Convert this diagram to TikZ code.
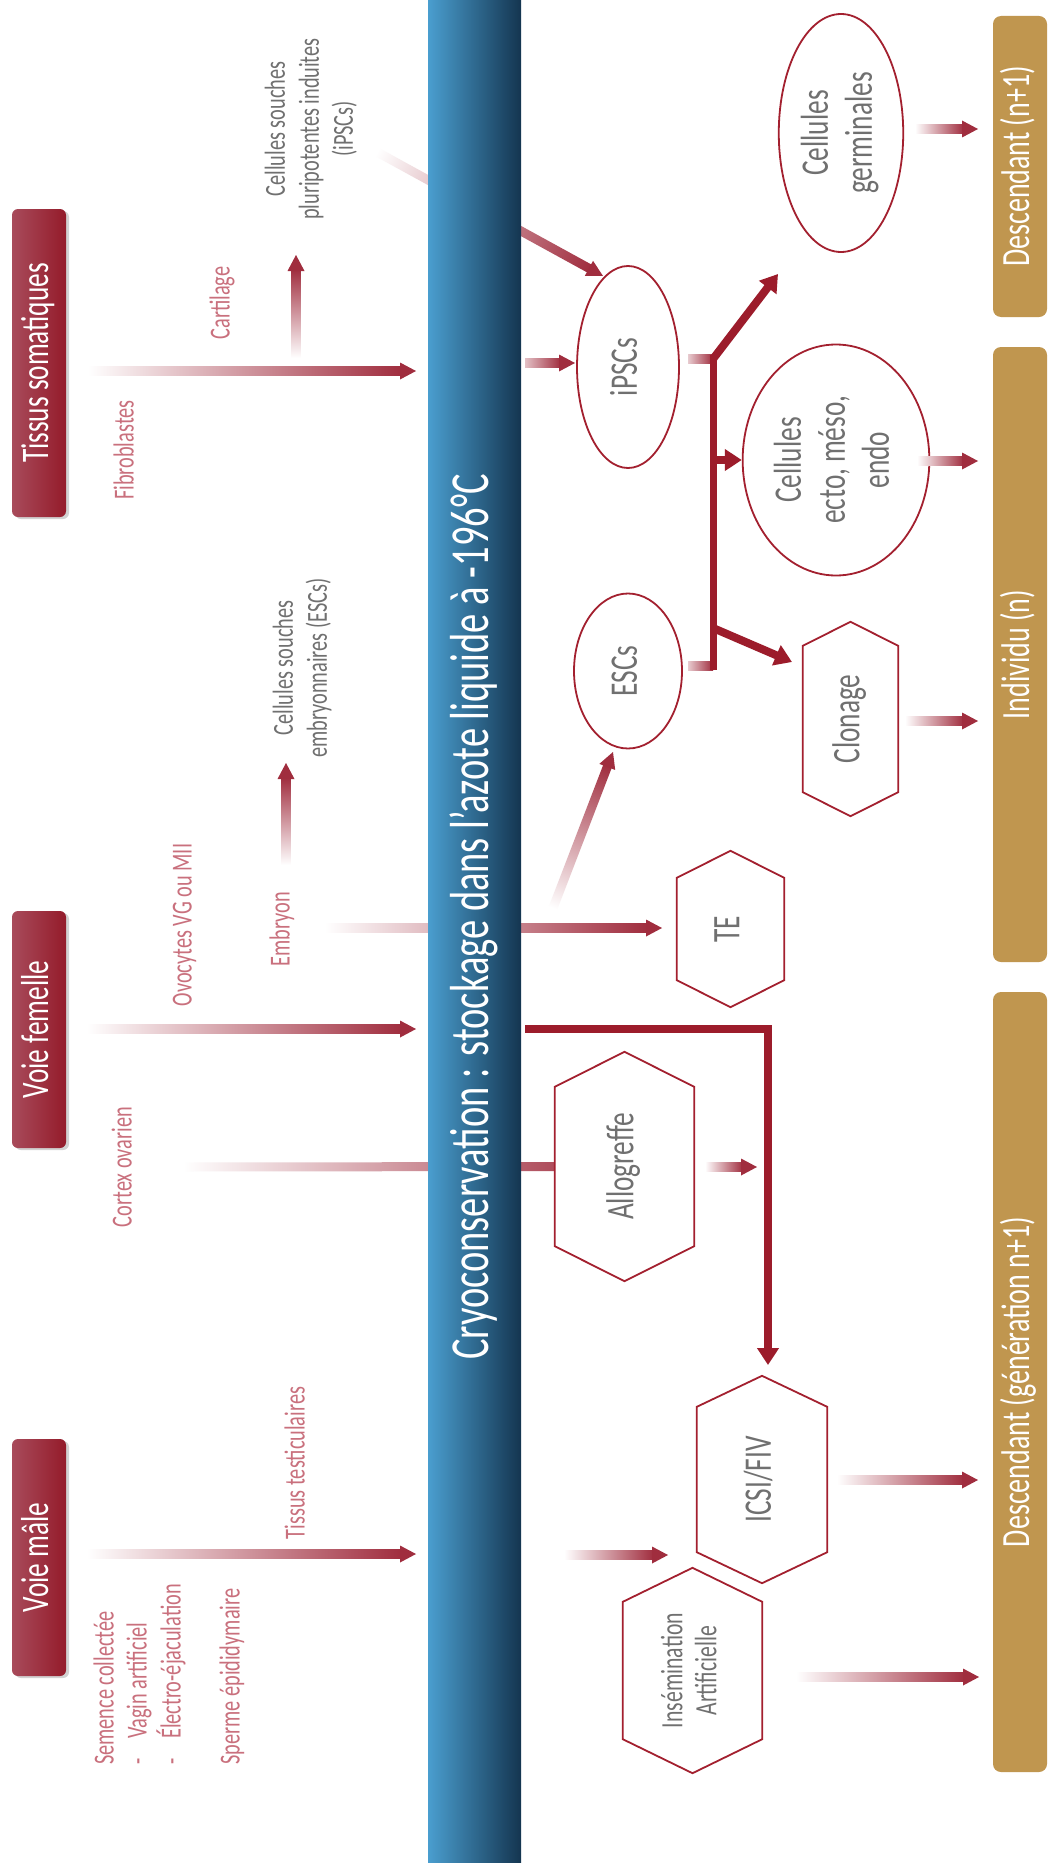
\documentclass[tikz,border=0pt]{standalone}
\usepackage{fontspec}
\setmainfont{Carlito}[FakeStretch=0.7]
\usepackage{graphicx}
\usepackage{xcolor}
\usetikzlibrary{positioning, shapes.geometric, shadows, arrows.meta}

\definecolor{cryored}{HTML}{9C1C2B}
\definecolor{arrowred}{HTML}{A02D3E}
\definecolor{cellred}{HTML}{A3202F}
\definecolor{boxredL}{HTML}{A84B5B}
\definecolor{boxredR}{HTML}{941B2A}
\definecolor{lblpink}{HTML}{C9707D}
\definecolor{infogray}{HTML}{707070}
\definecolor{gold}{HTML}{C0964F}
\definecolor{barleft}{HTML}{4A9ECF}
\definecolor{barright}{HTML}{143550}

\pgfdeclarelayer{background}
\pgfdeclarelayer{behind}
\pgfsetlayers{background,behind,main}

% vertical text (reads bottom to top)
\newcommand{\vt}[1]{\rotatebox{90}{\begin{tabular}{@{}c@{}}#1\end{tabular}}}

% arrow fading in from #3 (start #1, tip #2)
\newcommand{\fadearrow}[3]{%
  \pgfpointdiff{\pgfpointanchor{#1}{center}}{\pgfpointanchor{#2}{center}}%
  \pgfgetlastxy{\fadex}{\fadey}%
  \pgfmathsetmacro{\fadelen}{veclen(\fadex,\fadey)}%
  \pgfmathsetmacro{\fadeang}{atan2(\fadey,\fadex)}%
  \begin{scope}[transform canvas={shift={(#1)}, rotate=\fadeang}]
    \shade[left color=#3, right color=arrowred] (0pt,-4.5pt) rectangle (\fadelen pt-14pt,4.5pt);
    \fill[arrowred] (\fadelen pt-16pt,-8.5pt) -- (\fadelen pt,0pt) -- (\fadelen pt-16pt,8.5pt) -- cycle;
  \end{scope}}

% same without a head
\newcommand{\fadeline}[4]{%
  \pgfpointdiff{\pgfpointanchor{#1}{center}}{\pgfpointanchor{#2}{center}}%
  \pgfgetlastxy{\fadex}{\fadey}%
  \pgfmathsetmacro{\fadelen}{veclen(\fadex,\fadey)}%
  \pgfmathsetmacro{\fadeang}{atan2(\fadey,\fadex)}%
  \begin{scope}[transform canvas={shift={(#1)}, rotate=\fadeang}]
    \shade[left color=#3, right color=#4] (0pt,-4.5pt) rectangle (\fadelen pt,4.5pt);
  \end{scope}}

% hexagon outline round a rectangle node
\newcommand{\hexframe}[2]{\draw[hexline] (#1.north) -- ([yshift=-#2]#1.north east) -- ([yshift=#2]#1.south east) -- (#1.south) -- ([yshift=#2]#1.south west) -- ([yshift=-#2]#1.north west) -- cycle;}

\tikzset{
  boxtitle/.style={rectangle, rounded corners=6pt, inner sep=0pt, left color=boxredL, right color=boxredR,
    drop shadow={shadow xshift=3pt, shadow yshift=-2pt, opacity=0.35}, text=white, font=\fontsize{39}{45}\selectfont},
  goldbox/.style={rectangle, rounded corners=8pt, inner sep=0pt, fill=gold, text=white, font=\fontsize{40}{46}\selectfont},
  lbl/.style={inner sep=0pt, text=lblpink, font=\fontsize{29}{33}\selectfont},
  info/.style={inner sep=0pt, text=infogray, font=\fontsize{29}{34}\selectfont},
  cell/.style={ellipse, draw=cellred, line width=1.8pt, inner sep=0pt, text=infogray, font=\fontsize{39}{44}\selectfont},
  hexnode/.style={rectangle, inner sep=0pt, text=infogray, font=\fontsize{39}{44}\selectfont},
  hexline/.style={draw=cellred, line width=1.8pt, line join=miter},
  solidarrow/.style={cryored, line width=8pt, -{Triangle[length=17pt, width=21pt]}}
}

\begin{document}
\begin{tikzpicture}[x=1pt, y=-1pt]
    \useasboundingbox (0,0) rectangle (1048,1865);
    \begin{pgfonlayer}{background}
        \fill[white] (0,0) rectangle (1048,1865); % page
    \end{pgfonlayer}

    % cryo bar
    \node[rectangle, inner sep=0pt, minimum width=93pt, minimum height=1862pt, left color=barleft, right color=barright] (cryo) at (474.5,931) {};
    \node[inner sep=0pt, text=white, font=\fontsize{55}{66}\selectfont] (cryotext) at (475,917) {\vt{Cryoconservation : stockage dans l'azote liquide à -196°C}};

    % sources
    \node[boxtitle, minimum width=54pt, minimum height=308pt] (soma) at (39,363) {\vt{Tissus somatiques}};
    \node[boxtitle, minimum width=54pt, minimum height=237pt] (femelle) at (39,1029.5) {\vt{Voie femelle}};
    \node[boxtitle, minimum width=54pt, minimum height=237pt] (male) at (39,1557.5) {\vt{Voie mâle}};

    % results
    \node[goldbox, minimum width=54pt, minimum height=301pt] (descA) at (1020,166.5) {\vt{Descendant (n+1)}};
    \node[goldbox, minimum width=54pt, minimum height=615pt] (individu) at (1020,654.5) {\vt{Individu (n)}};
    \node[goldbox, minimum width=54pt, minimum height=780pt] (descB) at (1020,1382) {\vt{Descendant (génération n+1)}};

    % labels
    \node[lbl] (fibro) at (127,450) {\vt{Fibroblastes}};
    \node[lbl] (cartilage) at (223,303) {\vt{Cartilage}};
    \node[info] (ipsclabel) at (312,129) {\vt{Cellules souches\\pluripotentes induites\\(iPSCs)}};
    \node[lbl] (ovocytes) at (185,925) {\vt{Ovocytes VG ou MII}};
    \node[lbl] (embryon) at (283,929) {\vt{Embryon}};
    \node[info] (esclabel) at (303,668) {\vt{Cellules souches\\embryonnaires (ESCs)}};
    \node[lbl] (cortex) at (125,1167) {\vt{Cortex ovarien}};
    \node[lbl] (testic) at (298,1463) {\vt{Tissus testiculaires}};
    \node[lbl, anchor=south] (semence) at (170,1765) {\rotatebox{90}{\begin{tabular}{@{}l@{}}Semence collectée\\ \makebox[26pt][l]{-}Vagin artificiel\\ \makebox[26pt][l]{-}Électro-éjaculation\\[26pt] Sperme épididymaire\end{tabular}}};

    % cells
    \node[cell, minimum width=124pt, minimum height=238pt] (germ) at (841,133) {\vt{Cellules\\germinales}};
    \node[cell, minimum width=102pt, minimum height=202pt] (ipscs) at (628,367) {\vt{iPSCs}};
    \node[cell, minimum width=160pt, minimum height=231pt] (ecto) at (836,460) {\vt{Cellules\\ecto, méso,\\endo}};
    \node[cell, minimum width=108pt, minimum height=155pt] (escs) at (628,671) {\vt{ESCs}};

    % techniques
    \node[hexnode, minimum width=95pt, minimum height=194pt] (clonage) at (850.5,719) {\vt{Clonage}};
    \hexframe{clonage}{24pt}
    \node[hexnode, minimum width=107pt, minimum height=156pt] (te) at (730.5,929) {\vt{TE}};
    \hexframe{te}{27pt}
    \node[hexnode, minimum width=139pt, minimum height=229pt] (allogreffe) at (624.5,1166.5) {\vt{Allogreffe}};
    \hexframe{allogreffe}{35pt}
    \node[hexnode, minimum width=130pt, minimum height=207pt] (icsi) at (762,1479.5) {\vt{ICSI/FIV}};
    \hexframe{icsi}{31pt}
    \node[hexnode, minimum width=139pt, minimum height=205pt, font=\fontsize{31}{34}\selectfont] (insem) at (692.5,1670.5) {\vt{Insémination\\Artificielle}};
    \hexframe{insem}{34pt}

    % arrow ends
    \coordinate (somaS) at (88,371);
    \coordinate (somaT) at (416,371);
    \coordinate (cartS) at (296,358);
    \coordinate (cartT) at (296,255);
    \coordinate (ipdS) at (377,152);
    \coordinate (ipdT) at (603,276);
    \coordinate (ipinS) at (525,363);
    \coordinate (ipinT) at (575,363);
    \coordinate (ipstub) at (688,359);
    \coordinate (trunkTop) at (713,359);
    \coordinate (escstub) at (688,666);
    \coordinate (escjoin) at (713,666);
    \coordinate (germTip) at (778,274);
    \coordinate (ectoBr) at (713,460);
    \coordinate (cloBr) at (713,628);
    \coordinate (cloTip) at (792,662);
    \coordinate (germOutS) at (915,129);
    \coordinate (germOutT) at (978,129);
    \coordinate (ectoOutS) at (917,461);
    \coordinate (ectoOutT) at (978,461);
    \coordinate (cloOutS) at (905,721);
    \coordinate (cloOutT) at (978,721);
    \coordinate (ovoS) at (87,1029);
    \coordinate (ovoT) at (416,1029);
    \coordinate (ovoR) at (525,1029);
    \coordinate (icsiTip) at (768,1365);
    \coordinate (embS) at (325,928);
    \coordinate (embT) at (662,928);
    \coordinate (escUpS) at (286,865);
    \coordinate (escUpT) at (286,763);
    \coordinate (escdS) at (553,908);
    \coordinate (escdT) at (613,752);
    \coordinate (cortS) at (183,1167);
    \coordinate (alloOutS) at (705,1167);
    \coordinate (alloOutT) at (757,1167);
    \coordinate (icsiOutS) at (837,1480);
    \coordinate (icsiOutT) at (978,1480);
    \coordinate (maleS) at (87,1554);
    \coordinate (maleT) at (416,1554);
    \coordinate (maleRS) at (564,1555);
    \coordinate (maleRT) at (668,1555);
    \coordinate (insOutS) at (796,1677);
    \coordinate (insOutT) at (979,1677);
    \coordinate (alloIn) at (allogreffe.west);

    % arrows passing behind the bar
    \begin{pgfonlayer}{behind}
        \fadearrow{ipdS}{ipdT}{white}
        \fadearrow{embS}{embT}{white}
        \fadeline{cortS}{alloIn}{white}{arrowred!85!white}
    \end{pgfonlayer}

    % left side
    \fadearrow{somaS}{somaT}{white}
    \fadearrow{cartS}{cartT}{white}
    \fadearrow{ovoS}{ovoT}{white}
    \fadearrow{escUpS}{escUpT}{white}
    \fadearrow{maleS}{maleT}{white}

    % right side
    \fadearrow{ipinS}{ipinT}{arrowred!30!white}
    \fadeline{ipstub}{trunkTop}{arrowred!25!white}{arrowred}
    \fadeline{escstub}{escjoin}{arrowred!25!white}{arrowred}
    \draw[cryored, line width=7pt] (713,355) -- (713,670); % trunk
    \draw[solidarrow] (trunkTop) -- (germTip);
    \draw[solidarrow] (ectoBr) -- (ecto.west);
    \draw[solidarrow] (cloBr) -- (cloTip);
    \draw[solidarrow, line join=miter] (ovoR) -| (icsiTip);
    \fadearrow{escdS}{escdT}{white}
    \fadearrow{germOutS}{germOutT}{white}
    \fadearrow{ectoOutS}{ectoOutT}{white}
    \fadearrow{cloOutS}{cloOutT}{white}
    \fadearrow{alloOutS}{alloOutT}{white}
    \fadearrow{icsiOutS}{icsiOutT}{white}
    \fadearrow{maleRS}{maleRT}{white}
    \fadearrow{insOutS}{insOutT}{white}
\end{tikzpicture}
\end{document}
